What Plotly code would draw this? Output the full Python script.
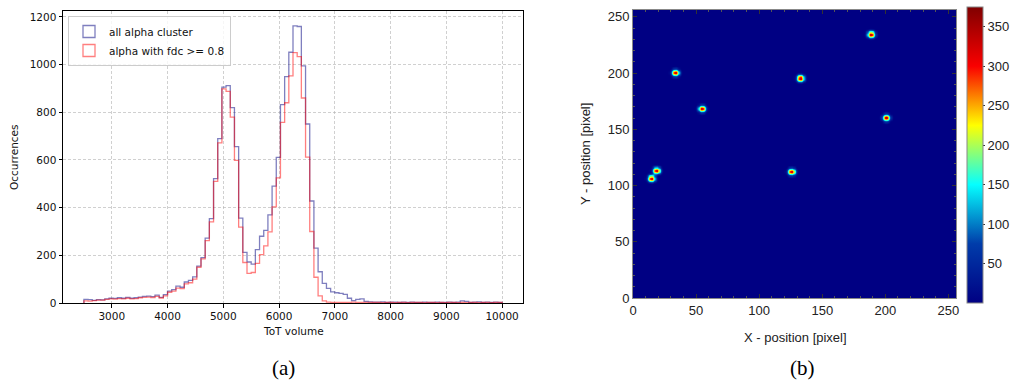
import numpy as np
import plotly.graph_objects as go

# ---------------- data: histogram (a) ----------------
bin_start = 2500
bin_width = 75
all_alpha = [15, 14, 11, 14, 13, 17, 20, 19, 22, 20,
             24, 20, 22, 25, 28, 29, 27, 33, 24, 35,
             50, 56, 71, 66, 88, 95, 110, 155, 190, 272,
             354, 522, 690, 906, 912, 820, 656, 356, 212, 172,
             163, 224, 280, 305, 370, 490, 611, 832, 950, 1052,
             1163, 1160, 995, 751, 428, 230, 131, 82, 61, 47,
             43, 40, 36, 20, 10, 15, 17, 7, 5, 4,
             4, 5, 3, 4, 4, 3, 4, 3, 4, 3,
             3, 4, 3, 3, 4, 3, 3, 4, 3, 4,
             9, 7, 3, 4, 5, 3, 4, 3, 4, 3]
fdc_alpha = [9, 8, 10, 12, 12, 15, 17, 16, 18, 17,
             20, 17, 18, 22, 24, 25, 23, 28, 21, 30,
             45, 50, 62, 60, 80, 85, 100, 150, 185, 262,
             340, 510, 672, 898, 888, 780, 598, 318, 170, 124,
             128, 166, 203, 240, 298, 403, 525, 758, 840, 953,
             1050, 1034, 860, 612, 300, 108, 30, 9, 4, 3,
             2, 3, 2, 3, 4, 3, 2, 3, 2, 2,
             2, 1, 2, 2, 1, 2, 2, 1, 2, 2,
             2, 1, 2, 2, 1, 2, 1, 2, 2, 1,
             2, 1, 2, 2, 1, 2, 2, 1, 2, 2]
x_ticks_a = [3000, 4000, 5000, 6000, 7000, 8000, 9000, 10000]
x_ticklabels_a = ["3000", "4000", "5000", "6000", "7000", "8000", "9000", "10000"]
y_ticks_a = [0, 200, 400, 600, 800, 1000, 1200]

# ---------------- data: hit map (b) ----------------
spot_x = [14, 18, 33, 54, 125, 132, 188, 200]
spot_y = [106, 113, 200, 168, 112, 195, 234, 160]
spot_peak = [362, 366, 370, 372, 368, 370, 375, 366]
spot_kernel = [
    [0, 0, 0, 0, 2, 8, 2, 0, 0, 0, 0],
    [0, 0, 10, 31, 45, 50, 45, 31, 10, 0, 0],
    [0, 10, 40, 79, 113, 125, 113, 79, 40, 10, 0],
    [2, 31, 79, 140, 193, 215, 193, 140, 79, 31, 2],
    [8, 45, 113, 193, 271, 310, 271, 193, 113, 45, 8],
    [10, 50, 125, 215, 310, 370, 310, 215, 125, 50, 10],
    [8, 45, 113, 193, 271, 310, 271, 193, 113, 45, 8],
    [2, 31, 79, 140, 193, 215, 193, 140, 79, 31, 2],
    [0, 10, 40, 79, 113, 125, 113, 79, 40, 10, 0],
    [0, 0, 10, 31, 45, 50, 45, 31, 10, 0, 0],
    [0, 0, 0, 0, 2, 8, 2, 0, 0, 0, 0],
]
n_pix = 256
ticks_b = [0, 50, 100, 150, 200, 250]
cbar_ticks = [50, 100, 150, 200, 250, 300, 350]

W, H = 1012, 381
def px(x):
    return x / W
def py(y):
    return 1 - y / H

# step outline from bins
edges = [bin_start + bin_width * i for i in range(len(all_alpha) + 1)]
def step(vals):
    xs = [edges[0]] + edges
    ys = [0] + list(vals) + [0]
    return xs, ys

fig = go.Figure()
bx, by = step(all_alpha)
rx, ry = step(fdc_alpha)
fig.add_trace(go.Scatter(x=bx, y=by, mode="lines", line=dict(color="rgba(0,0,128,0.5)", width=1.3, shape="hv"),
                         showlegend=False, xaxis="x", yaxis="y", hoverinfo="skip"))
fig.add_trace(go.Scatter(x=rx, y=ry, mode="lines", line=dict(color="rgba(255,0,0,0.5)", width=1.3, shape="hv"),
                         showlegend=False, xaxis="x", yaxis="y", hoverinfo="skip"))
# legend proxies (outlined patches), placed outside the visible range
fig.add_trace(go.Bar(x=[0], y=[0], name="all alpha cluster", marker=dict(color="rgba(0,0,0,0)",
                     line=dict(color="rgba(0,0,128,0.5)", width=1.3)), xaxis="x", yaxis="y"))
fig.add_trace(go.Bar(x=[0], y=[0], name="alpha with fdc >= 0.8", marker=dict(color="rgba(0,0,0,0)",
                     line=dict(color="rgba(255,0,0,0.5)", width=1.3)), xaxis="x", yaxis="y"))

# hit map
z = np.zeros((n_pix, n_pix))
k = np.array(spot_kernel, dtype=float)
kh = k.shape[0] // 2
for sx, sy, pk in zip(spot_x, spot_y, spot_peak):
    z[sy - kh:sy + kh + 1, sx - kh:sx + kh + 1] += k * pk / k.max()

fig.add_trace(go.Heatmap(z=z, x0=0.5, dx=1, y0=0.5, dy=1, colorscale="Jet", zmin=0, zmax=375,
                         zsmooth="best", xaxis="x2", yaxis="y2", hoverinfo="skip",
                         colorbar=dict(x=px(967), xanchor="left", xpad=0, ypad=0,
                                       thickness=16, thicknessmode="pixels",
                                       len=(303 - 7) / H, lenmode="fraction", y=py(155), yanchor="middle",
                                       tickvals=cbar_ticks, ticks="outside", ticklen=2, tickcolor="#333",
                                       outlinecolor="#888", outlinewidth=1,
                                       tickfont=dict(family="Liberation Sans", size=13, color="#222"))))

grid = "rgba(176,176,176,0.6)"
fig.update_layout(
    width=W, height=H, margin=dict(l=0, r=0, t=0, b=0, autoexpand=False),
    paper_bgcolor="white", plot_bgcolor="white",
    barmode="overlay",
    xaxis=dict(domain=[px(63), px(523)], range=[2125, 10375], tickvals=x_ticks_a, ticktext=x_ticklabels_a,
               showline=True, mirror=True, linecolor="black", linewidth=1,
               ticks="outside", ticklen=3.5, tickcolor="black", zeroline=False,
               showgrid=True, gridcolor=grid, griddash="3px,2px", gridwidth=0.8, automargin=False,
               tickfont=dict(family="DejaVu Sans", size=10.5, color="#111"), anchor="y"),
    yaxis=dict(domain=[py(303), py(11)], range=[0, 1225], tickvals=y_ticks_a,
               showline=True, mirror=True, linecolor="black", linewidth=1,
               ticks="outside", ticklen=3.5, tickcolor="black", zeroline=False,
               showgrid=True, gridcolor=grid, griddash="3px,2px", gridwidth=0.8, automargin=False,
               tickfont=dict(family="DejaVu Sans", size=10.5, color="#111"), anchor="x"),
    xaxis2=dict(domain=[px(633), px(956)], range=[0, 256], tickvals=ticks_b,
                showline=True, mirror="allticks", linecolor="#888", linewidth=1,
                ticks="inside", ticklen=4, tickcolor="#333", zeroline=False, showgrid=False, automargin=False,
                minor=dict(ticks="inside", ticklen=2, dtick=10, tickcolor="#555"),
                tickfont=dict(family="Liberation Sans", size=13, color="#222"), anchor="y2"),
    yaxis2=dict(domain=[py(298), py(10)], range=[0, 256], tickvals=ticks_b,
                showline=True, mirror="allticks", linecolor="#888", linewidth=1,
                ticks="inside", ticklen=4, tickcolor="#333", zeroline=False, showgrid=False, automargin=False,
                minor=dict(ticks="inside", ticklen=2, dtick=10, tickcolor="#555"),
                tickfont=dict(family="Liberation Sans", size=13, color="#222"), anchor="x2"),
    legend=dict(x=px(68), y=py(16), xanchor="left", yanchor="top",
                bgcolor="rgba(255,255,255,0.8)", bordercolor="#cccccc", borderwidth=1,
                font=dict(family="DejaVu Sans", size=10.5, color="#111"), tracegroupgap=0),
    showlegend=True,
)

ann_font = dict(family="DejaVu Sans", size=10.5, color="#111")
fig.add_annotation(text="ToT volume", x=px(293), y=py(331), xref="paper", yref="paper",
                   showarrow=False, font=ann_font, xanchor="center", yanchor="middle")
fig.add_annotation(text="Occurrences", x=px(14), y=py(157), xref="paper", yref="paper",
                   showarrow=False, font=ann_font, textangle=-90, xanchor="center", yanchor="middle")
fig.add_annotation(text="X - position [pixel]", x=px(795), y=py(337), xref="paper", yref="paper",
                   showarrow=False, font=dict(family="Liberation Sans", size=13, color="#222"),
                   xanchor="center", yanchor="middle")
fig.add_annotation(text="Y - position [pixel]", x=px(585), y=py(154), xref="paper", yref="paper",
                   showarrow=False, font=dict(family="Liberation Sans", size=13, color="#222"),
                   textangle=-90, xanchor="center", yanchor="middle")
fig.add_annotation(text="(a)", x=px(283), y=py(368), xref="paper", yref="paper",
                   showarrow=False, font=dict(family="Liberation Serif", size=21, color="black"),
                   xanchor="center", yanchor="middle")
fig.add_annotation(text="(b)", x=px(802), y=py(368), xref="paper", yref="paper",
                   showarrow=False, font=dict(family="Liberation Serif", size=21, color="black"),
                   xanchor="center", yanchor="middle")

fig.write_html("out.html")
